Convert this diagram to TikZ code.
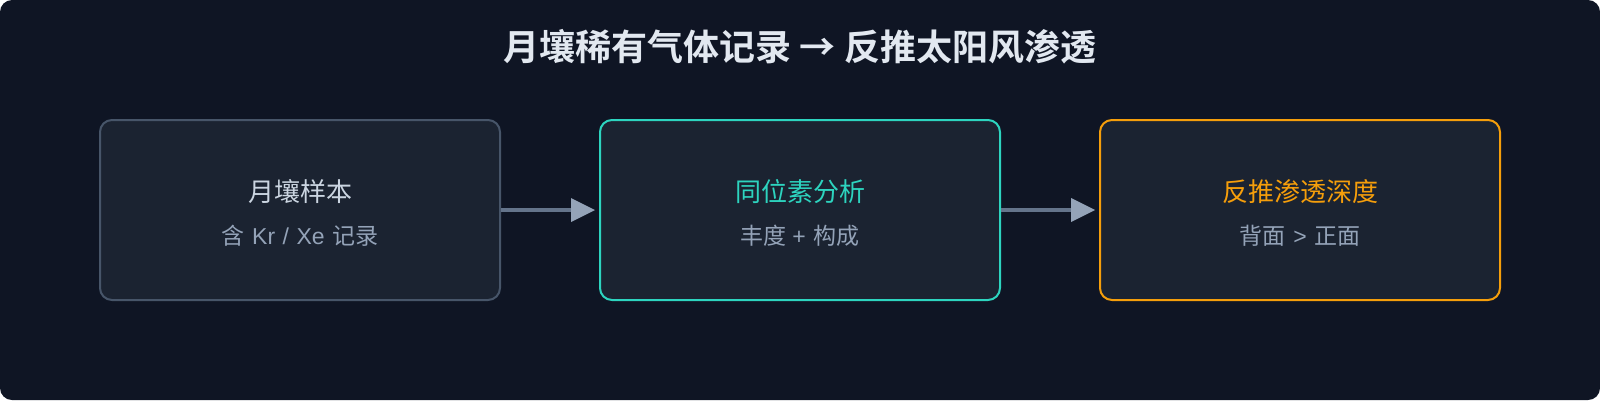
\documentclass[tikz,border=0pt]{standalone}
\usepackage{fontspec}
\setmainfont{Noto Sans CJK SC}[BoldFont={Noto Sans CJK SC Bold}]
\newfontfamily\latsans{Liberation Sans}
\usetikzlibrary{arrows.meta}
\definecolor{bgcol}{HTML}{0F1524}
\definecolor{boxfill}{HTML}{1B2331}
\definecolor{graystroke}{HTML}{475569}
\definecolor{teal}{HTML}{2DD4BF}
\definecolor{amber}{HTML}{F59E0B}
\definecolor{titlecol}{HTML}{E2E8F0}
\definecolor{headgray}{HTML}{CBD5E1}
\definecolor{subcol}{HTML}{94A3B8}
\definecolor{linecol}{HTML}{64748B}
\definecolor{headcol}{HTML}{94A3B8}
\newcommand{\gp}{\hspace{7.5pt}}
\tikzset{
  stagebox/.style={draw=#1, line width=2pt, fill=boxfill, rounded corners=12pt,
    minimum width=400pt, minimum height=180pt, inner sep=0pt},
  headtext/.style={text=#1, font=\fontsize{26pt}{30pt}\selectfont, inner sep=0pt},
  subtext/.style={text=subcol, font=\fontsize{23pt}{27pt}\selectfont, inner sep=0pt},
  flow/.style={draw=linecol, line width=4pt, shorten >=4pt,
    -{Triangle[length=24pt, width=24pt, color=headcol, line width=0pt]}},
}
\begin{document}
\begin{tikzpicture}[x=1pt, y=-1pt]
  \useasboundingbox (0,0) rectangle (1600,400);
  \fill[bgcol, rounded corners=12pt] (0,0) rectangle (1600,400);
  \node[text=titlecol, font=\bfseries\fontsize{36pt}{40pt}\selectfont, inner sep=0pt] (title) at (800,47) {月壤稀有气体记录 → 反推太阳风渗透};

  \node[stagebox=graystroke] (b1) at (300,210) {};
  \node[stagebox=teal] (b2) at (800,210) {};
  \node[stagebox=amber] (b3) at (1300,210) {};

  \node[headtext=headgray] (h1) at (300,192) {月壤样本};
  \node[subtext] (s1) at (300,236) {含\gp{\latsans Kr\gp/\gp Xe}\gp 记录};
  \node[headtext=teal] (h2) at (800,192) {同位素分析};
  \node[subtext] (s2) at (800,236) {丰度\hspace{6pt}{\latsans +}\hspace{8pt}构成};
  \node[headtext=amber] (h3) at (1300,192) {反推渗透深度};
  \node[subtext] (s3) at (1300,236) {背面\gp{\latsans >}\gp 正面};

  \draw[flow] (b1.east) -- (b2.west);
  \draw[flow] (b2.east) -- (b3.west);
\end{tikzpicture}
\end{document}
